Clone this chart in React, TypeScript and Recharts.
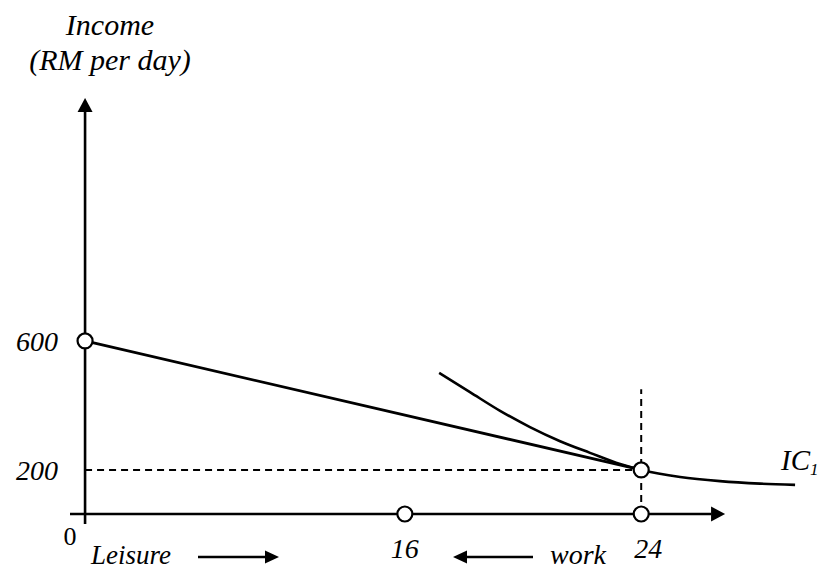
import {
  ComposedChart,
  Line,
  Scatter,
  XAxis,
  YAxis,
  ReferenceLine,
} from "recharts"

// sketch is not drawn to scale: values are placed where the picture draws them
const xTickLabels = ["0", "16", "24"]
const xTickAt = [0, 13.8, 24]
const yTickLabels = ["600", "200"]
const yTickAt = [41.6, 10.6]

const budgetX = [0, 24]
const budgetY = [41.6, 10.6]

const icX = [15.28, 16.61, 17.91, 19.2, 20.5, 21.79, 23.09, 24, 25.68, 27.4, 29.13, 30.64]
const icY = [33.9, 29.3, 24.8, 20.9, 17.5, 14.7, 12.0, 10.6, 8.9, 7.9, 7.3, 7.0]

const markerX = [0, 24, 13.8, 24]
const markerY = [41.6, 10.6, 0, 0]

const axisXFrom = -0.65
const axisXTo = 27.62
const axisYFrom = -2.4
const axisYTo = 100
const guideTop = 30

const budget = budgetX.map((x, i) => ({ x, y: budgetY[i] }))
const indifference = icX.map((x, i) => ({ x, y: icY[i] }))
const markers = markerX.map((x, i) => ({ x, y: markerY[i] }))

const css = `
.fig text { font-family: "Liberation Serif", Tinos, serif !important; }
.fig text.it { font-style: italic; }
`

function ArrowLine(props: any) {
  const { x1, y1, x2, y2 } = props
  const len = Math.hypot(x2 - x1, y2 - y1)
  const ux = (x2 - x1) / len
  const uy = (y2 - y1) / len
  const head = 14
  const half = 7.5
  const bx = x2 - ux * head
  const by = y2 - uy * head
  return (
    <g>
      <line x1={x1} y1={y1} x2={bx} y2={by} stroke="#000" strokeWidth={2.6} />
      <polygon
        points={`${x2},${y2} ${bx - uy * half},${by + ux * half} ${bx + uy * half},${by - ux * half}`}
        fill="#000"
      />
    </g>
  )
}

function XTick(props: any) {
  const { x, y, payload } = props
  const i = xTickAt.indexOf(payload.value)
  const label = xTickLabels[i]
  if (i === 0) {
    return (
      <text x={x - 15} y={y + 14.4} textAnchor="middle" fontSize={26} fill="#000">
        {label}
      </text>
    )
  }
  return (
    <text
      className="it"
      x={x + (label === "24" ? 7 : 0)}
      y={y + 27.4}
      textAnchor="middle"
      fontSize={28}
      fill="#000"
    >
      {label}
    </text>
  )
}

function YTick(props: any) {
  const { x, y, payload } = props
  const label = yTickLabels[yTickAt.indexOf(payload.value)]
  return (
    <text className="it" x={x} y={y + 10.5} textAnchor="end" fontSize={28} fill="#000">
      {label}
    </text>
  )
}

function OpenDot(props: any) {
  const { cx, cy } = props
  return <circle cx={cx} cy={cy} r={7.5} fill="#fff" stroke="#000" strokeWidth={2.2} />
}

function SmallArrow({ from, to, y }: { from: number; to: number; y: number }) {
  const dir = to > from ? 1 : -1
  const base = to - dir * 14
  return (
    <g>
      <line x1={from} y1={y} x2={base} y2={y} stroke="#000" strokeWidth={2.4} />
      <polygon points={`${to},${y} ${base},${y - 6.5} ${base},${y + 6.5}`} fill="#000" />
    </g>
  )
}

export default function App() {
  return (
    <div
      className="fig"
      style={{ position: "absolute", left: 0, top: 0, width: 821, height: 572, background: "#fff" }}
    >
      <style>{css}</style>
      <ComposedChart
        width={821}
        height={572}
        margin={{ top: 89.68, right: 6, bottom: 1.36, left: 0 }}
      >
        <XAxis
          dataKey="x"
          type="number"
          domain={[-0.65, 31.5]}
          ticks={xTickAt}
          allowDataOverflow
          axisLine={false}
          tickLine={false}
          tickSize={0}
          tickMargin={0}
          height={40}
          interval={0}
          tick={<XTick />}
        />
        <YAxis
          dataKey="y"
          type="number"
          domain={[-4, 102]}
          ticks={yTickAt}
          allowDataOverflow
          axisLine={false}
          tickLine={false}
          tickSize={0}
          tickMargin={12}
          width={70}
          interval={0}
          tick={<YTick />}
        />

        <ReferenceLine
          segment={[{ x: axisXFrom, y: 0 }, { x: axisXTo, y: 0 }]}
          shape={<ArrowLine />}
        />
        <ReferenceLine
          segment={[{ x: 0, y: axisYFrom }, { x: 0, y: axisYTo }]}
          shape={<ArrowLine />}
        />
        <ReferenceLine
          segment={[{ x: 0, y: budgetY[1] }, { x: budgetX[1], y: budgetY[1] }]}
          stroke="#000"
          strokeWidth={2}
          strokeDasharray="7 5"
        />
        <ReferenceLine
          segment={[{ x: budgetX[1], y: 0 }, { x: budgetX[1], y: guideTop }]}
          stroke="#000"
          strokeWidth={2}
          strokeDasharray="7 5"
        />

        <Line
          data={budget}
          dataKey="y"
          type="linear"
          stroke="#000"
          strokeWidth={2.8}
          dot={false}
          activeDot={false}
          isAnimationActive={false}
        />
        <Line
          data={indifference}
          dataKey="y"
          type="monotone"
          stroke="#000"
          strokeWidth={2.6}
          dot={false}
          activeDot={false}
          isAnimationActive={false}
        />
        <Scatter data={markers} dataKey="y" shape={<OpenDot />} isAnimationActive={false} />

        <text className="it" x={110} y={35} textAnchor="middle" fontSize={30} fill="#000">
          Income
        </text>
        <text className="it" x={110} y={70} textAnchor="middle" fontSize={30} fill="#000">
          (RM per day)
        </text>
        <text className="it" x={781} y={470} fontSize={29} fill="#000">
          IC<tspan fontSize={17} dy={5}>1</tspan>
        </text>
        <text className="it" x={91} y={564} fontSize={27} fill="#000">
          Leisure
        </text>
        <SmallArrow from={198} to={279} y={557} />
        <SmallArrow from={533} to={453} y={557} />
        <text className="it" x={550} y={564} fontSize={28} fill="#000">
          work
        </text>
      </ComposedChart>
    </div>
  )
}
